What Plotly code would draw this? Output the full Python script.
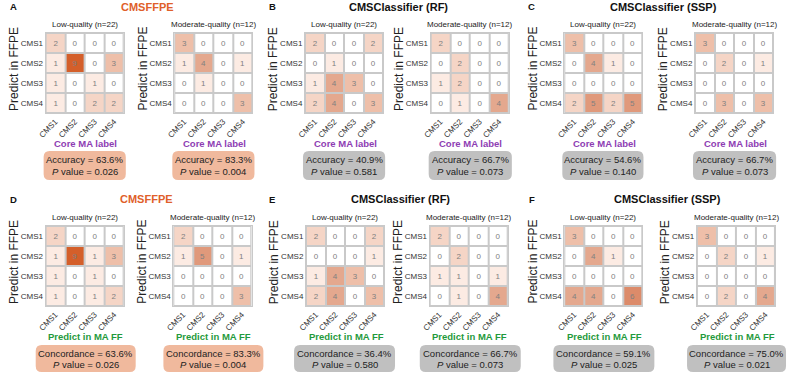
import plotly.graph_objects as go

W, H = 788, 374

# ---------------- data ----------------
cms = ["CMS1", "CMS2", "CMS3", "CMS4"]

A_low = [[2, 0, 0, 0], [1, 9, 0, 3], [1, 0, 1, 0], [1, 0, 2, 2]]
A_mod = [[3, 0, 0, 0], [1, 4, 0, 1], [0, 1, 0, 0], [0, 0, 0, 3]]
B_low = [[2, 0, 0, 2], [0, 1, 0, 0], [1, 4, 3, 0], [2, 4, 0, 3]]
B_mod = [[2, 0, 0, 0], [0, 2, 0, 0], [1, 2, 0, 0], [0, 1, 0, 4]]
C_low = [[3, 0, 0, 0], [0, 4, 1, 0], [0, 0, 0, 0], [2, 5, 2, 5]]
C_mod = [[3, 0, 0, 0], [0, 2, 0, 1], [0, 0, 0, 0], [0, 3, 0, 3]]
D_low = [[2, 0, 0, 0], [1, 9, 1, 3], [1, 0, 1, 0], [1, 0, 1, 2]]
D_mod = [[2, 0, 0, 0], [1, 5, 0, 1], [0, 0, 0, 0], [0, 0, 0, 3]]
E_low = [[2, 0, 0, 2], [0, 0, 0, 1], [1, 4, 3, 0], [2, 4, 0, 3]]
E_mod = [[2, 0, 0, 0], [0, 2, 0, 0], [1, 1, 0, 1], [0, 1, 0, 4]]
F_low = [[3, 0, 0, 0], [0, 4, 1, 0], [0, 0, 0, 0], [4, 4, 0, 6]]
F_mod = [[3, 0, 0, 0], [0, 2, 0, 1], [0, 0, 0, 0], [0, 2, 0, 4]]

subtitles = ["Low-quality (n=22)", "Moderate-quality (n=12)"]
letters = ["A", "B", "C", "D", "E", "F"]
titles = ["CMSFFPE", "CMSClassifier (RF)", "CMSClassifier (SSP)",
          "CMSFFPE", "CMSClassifier (RF)", "CMSClassifier (SSP)"]
metric_names = ["Accuracy"] * 3 + ["Concordance"] * 3
metric_low = ["63.6%", "40.9%", "54.6%", "63.6%", "36.4%", "59.1%"]
metric_mod = ["83.3%", "66.7%", "66.7%", "83.3%", "66.7%", "75.0%"]
p_low = ["0.026", "0.581", "0.140", "0.026", "0.580", "0.025"]
p_mod = ["0.004", "0.073", "0.073", "0.004", "0.073", "0.021"]
xlabels = ["Core MA label"] * 3 + ["Predict in MA FF"] * 3
matrices = [(A_low, A_mod), (B_low, B_mod), (C_low, C_mod),
            (D_low, D_mod), (E_low, E_mod), (F_low, F_mod)]

# ---------------- style / layout ----------------
FONT = "Liberation Sans, Arial, sans-serif"
ORANGE = "#e0602a"
PURPLE = "#8e3db3"
GREEN = "#1f9a3c"
BOX_OR = "#f0b99d"
BOX_GR = "#c0c0c0"
GRID = "#c9c9c9"

colorscale = [
    [0.0, "#ffffff"], [1 / 9, "#fcebe3"], [2 / 9, "#f5d5c6"], [3 / 9, "#eebfa9"],
    [4 / 9, "#e4a88e"], [5 / 9, "#e0997b"], [6 / 9, "#dc8b6a"], [1.0, "#d45f2a"],
]

# pixel geometry per panel: heatmap lefts, title centre, box extents
hm_left = [(38, 168), (300, 427), (562, 694), (38, 167), (301, 426), (562, 696)]
hm_w = 79
hm_top = [33, 33, 33, 226, 226, 226]
hm_h = 80
title_cx = [141, 394, 662, 140, 397, 666]
letter_x = [6, 267, 529, 6, 267, 529]
boxes = [((36, 119), (166, 249)), ((298, 381), (425, 509)), ((560, 642), (692, 776)),
         ((28, 129), (157, 258)), ((289, 391), (416, 518)), ((551, 653), (686, 786))]
box_y = [(151, 180)] * 3 + [(345, 372)] * 3


def fx(px):
    return px / W


def fy(py):
    return 1 - py / H


def note(px, py, text, size, color, angle=0):
    return dict(x=fx(px), y=fy(py), xref="paper", yref="paper",
                xanchor="center", yanchor="middle", text=text, showarrow=False,
                textangle=angle, font=dict(size=size, color=color, family=FONT))


fig = go.Figure()
annotations = []
shapes = []
layout_axes = {}

k = 0
for p in range(6):
    row_top = hm_top[p]
    for j in range(2):
        k += 1
        z = matrices[p][j]
        xa = "x" if k == 1 else f"x{k}"
        ya = "y" if k == 1 else f"y{k}"
        fig.add_trace(go.Heatmap(
            z=z, x=cms, y=cms, xaxis=xa, yaxis=ya,
            colorscale=colorscale, zmin=0, zmax=9, showscale=False,
            xgap=2, ygap=2, texttemplate="%{z}",
            textfont=dict(size=8, color="#808080", family=FONT),
            hoverinfo="skip",
        ))
        l = hm_left[p][j]
        xkey = "xaxis" if k == 1 else f"xaxis{k}"
        ykey = "yaxis" if k == 1 else f"yaxis{k}"
        layout_axes[xkey] = dict(
            domain=[fx(l), fx(l + hm_w)], anchor=ya, tickangle=-45,
            tickfont=dict(size=8, color="#333", family=FONT),
            showgrid=False, zeroline=False, ticks="", ticklen=0,
            showline=True, mirror=True, linecolor=GRID, linewidth=1,
            fixedrange=True,
        )
        layout_axes[ykey] = dict(
            domain=[fy(row_top + hm_h), fy(row_top)], anchor=xa,
            autorange="reversed",
            tickfont=dict(size=8, color="#333", family=FONT),
            showgrid=False, zeroline=False, ticks="", ticklen=0,
            showline=True, mirror=True, linecolor=GRID, linewidth=1,
            fixedrange=True,
        )
        cx = l + hm_w / 2
        annotations.append(note(cx, row_top - 9, subtitles[j], 8, "#222"))
        annotations.append(note(l - 32, row_top + hm_h / 2 - 4, "Predict in FFPE",
                                12, "#222", angle=-90))
        annotations.append(note(cx + 1, row_top + 110, f"<b>{xlabels[p]}</b>", 9.5,
                                PURPLE if p < 3 else GREEN))
        # rounded box
        bx0, bx1 = boxes[p][j]
        by0, by1 = box_y[p]
        r = 6
        rx, ry = r / W, r / H
        X0, X1, Y0, Y1 = fx(bx0), fx(bx1), fy(by1), fy(by0)
        path = (f"M {X0 + rx},{Y0} L {X1 - rx},{Y0} Q {X1},{Y0} {X1},{Y0 + ry} "
                f"L {X1},{Y1 - ry} Q {X1},{Y1} {X1 - rx},{Y1} "
                f"L {X0 + rx},{Y1} Q {X0},{Y1} {X0},{Y1 - ry} "
                f"L {X0},{Y0 + ry} Q {X0},{Y0} {X0 + rx},{Y0} Z")
        shapes.append(dict(type="path", path=path, xref="paper", yref="paper",
                           fillcolor=BOX_OR if p % 3 == 0 else BOX_GR,
                           line=dict(width=0), layer="below"))
        bcx = (bx0 + bx1) / 2
        bcy = (by0 + by1) / 2
        mval = metric_low[p] if j == 0 else metric_mod[p]
        pval = p_low[p] if j == 0 else p_mod[p]
        annotations.append(note(bcx, bcy - 5.5, f"{metric_names[p]} = {mval}", 9.5, "#222"))
        annotations.append(note(bcx, bcy + 5.5, f"<i>P</i> value = {pval}", 9.5, "#222"))
    ty = 7 if p < 3 else 199
    annotations.append(note(title_cx[p], ty, f"<b>{titles[p]}</b>", 11,
                            ORANGE if p % 3 == 0 else "#111"))
    annotations.append(note(letter_x[p], ty, f"<b>{letters[p]}</b>", 9.5, "#111"))

fig.update_layout(
    width=W, height=H, autosize=False,
    margin=dict(l=0, r=0, t=0, b=0),
    paper_bgcolor="white", plot_bgcolor=GRID,
    annotations=annotations, shapes=shapes, showlegend=False,
    **layout_axes,
)

fig.write_html("out.html", config={"displayModeBar": False},
               post_script="document.body.style.margin='0';document.body.style.overflow='hidden';")
